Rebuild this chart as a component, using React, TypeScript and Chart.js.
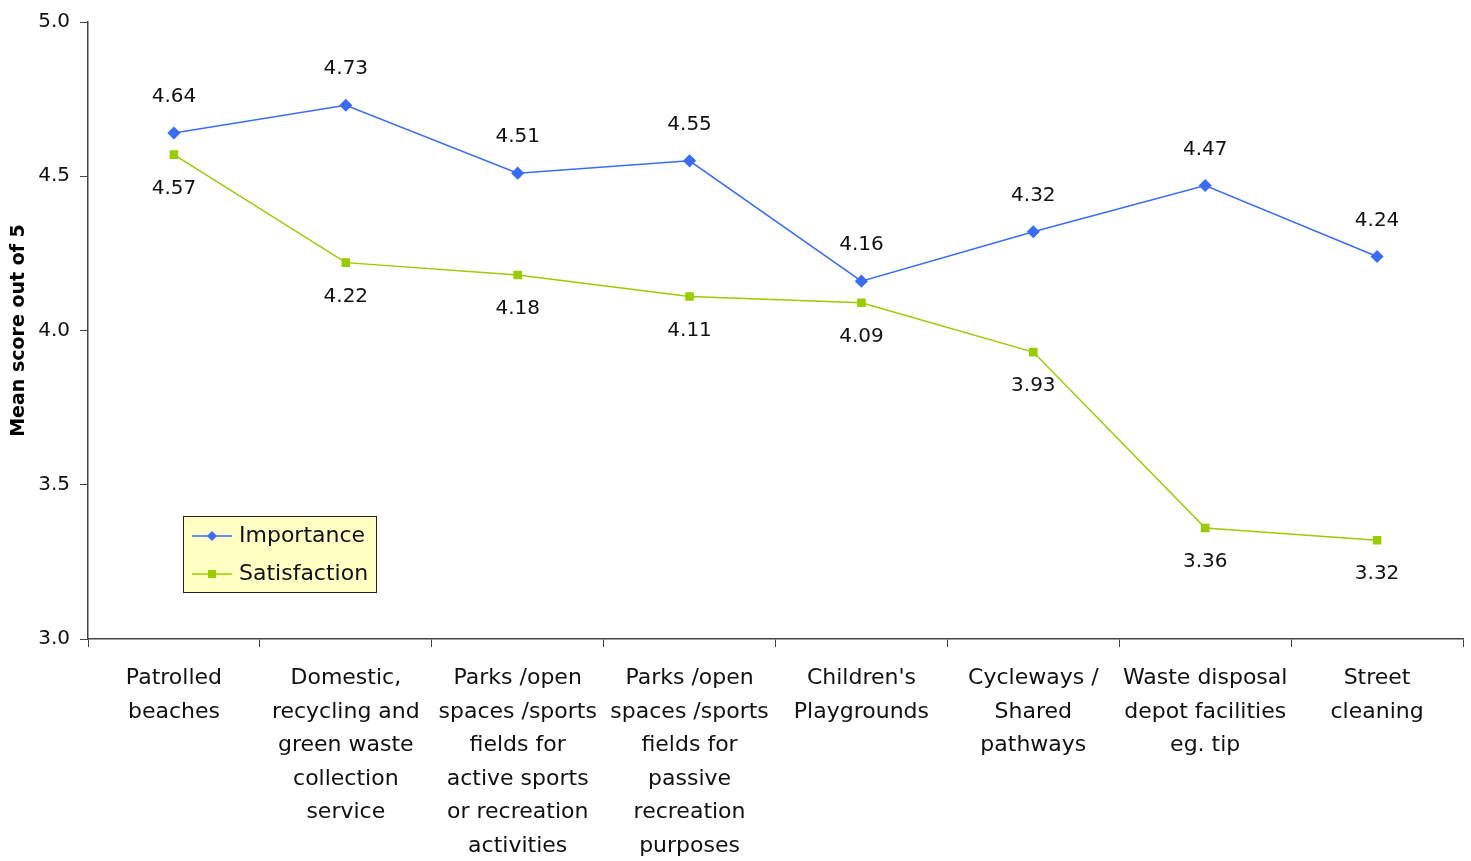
import React, { useEffect, useRef } from "react";
import { Chart, registerables } from "chart.js";

Chart.register(...registerables);

const categories: string[][] = [
  ["Patrolled", "beaches"],
  ["Domestic,", "recycling and", "green waste", "collection", "service"],
  ["Parks /open", "spaces /sports", "fields for", "active sports", "or recreation", "activities"],
  ["Parks /open", "spaces /sports", "fields for", "passive", "recreation", "purposes"],
  ["Children's", "Playgrounds"],
  ["Cycleways /", "Shared", "pathways"],
  ["Waste disposal", "depot facilities", "eg. tip"],
  ["Street", "cleaning"],
];
const importance = [4.64, 4.73, 4.51, 4.55, 4.16, 4.32, 4.47, 4.24];
const satisfaction = [4.57, 4.22, 4.18, 4.11, 4.09, 3.93, 3.36, 3.32];
const seriesNames = ["Importance", "Satisfaction"];
const yTicks = [3.0, 3.5, 4.0, 4.5, 5.0];

const FONT = "'DejaVu Sans', sans-serif";
const BLUE = "#3a6cf4";
const GREEN = "#99cc00";

const labelPlugin = {
  id: "valueLabels",
  afterDatasetsDraw(chart: any) {
    const ctx = chart.ctx;
    ctx.save();
    ctx.font = `20px ${FONT}`;
    ctx.fillStyle = "#111";
    ctx.textAlign = "center";
    ctx.textBaseline = "middle";
    chart.data.datasets.forEach((ds: any, di: number) => {
      const meta = chart.getDatasetMeta(di);
      meta.data.forEach((pt: any, i: number) => {
        const v = ds.data[i] as number;
        const dy = di === 0 ? -36 : 34;
        ctx.fillText(v.toFixed(2), pt.x, pt.y + dy);
      });
    });
    ctx.restore();
  },
};

const legendPlugin = {
  id: "boxLegend",
  afterDraw(chart: any) {
    const ctx = chart.ctx;
    const x0 = 183, y0 = 516, w = 193, h = 76;
    ctx.save();
    ctx.fillStyle = "#ffffc4";
    ctx.fillRect(x0, y0, w, h);
    ctx.strokeStyle = "#222";
    ctx.lineWidth = 1;
    ctx.strokeRect(x0 + 0.5, y0 + 0.5, w, h);
    const rows = [
      { name: seriesNames[0], color: BLUE, y: 536, diamond: true },
      { name: seriesNames[1], color: GREEN, y: 574, diamond: false },
    ];
    rows.forEach((r) => {
      ctx.strokeStyle = r.color;
      ctx.lineWidth = 1.5;
      ctx.beginPath();
      ctx.moveTo(192, r.y);
      ctx.lineTo(232, r.y);
      ctx.stroke();
      ctx.fillStyle = r.color;
      if (r.diamond) {
        ctx.beginPath();
        ctx.moveTo(212, r.y - 5);
        ctx.lineTo(217, r.y);
        ctx.lineTo(212, r.y + 5);
        ctx.lineTo(207, r.y);
        ctx.closePath();
        ctx.fill();
      } else {
        ctx.fillRect(208, r.y - 4, 8, 8);
      }
      ctx.fillStyle = "#111";
      ctx.font = `22px ${FONT}`;
      ctx.textAlign = "left";
      ctx.textBaseline = "middle";
      ctx.fillText(r.name, 239, r.y);
    });
    ctx.restore();
  },
};

export default function App() {
  const ref = useRef<HTMLCanvasElement>(null);
  useEffect(() => {
    if (!ref.current) return;
    const chart = new Chart(ref.current, {
      type: "line",
      data: {
        labels: categories as any,
        datasets: [
          {
            label: seriesNames[0],
            data: importance,
            borderColor: BLUE,
            backgroundColor: BLUE,
            borderWidth: 1.5,
            pointStyle: "rectRot",
            pointRadius: 5.5,
            pointHoverRadius: 5.5,
            tension: 0,
          },
          {
            label: seriesNames[1],
            data: satisfaction,
            borderColor: GREEN,
            backgroundColor: GREEN,
            borderWidth: 1.5,
            pointStyle: "rect",
            pointRadius: 5,
            pointHoverRadius: 5,
            tension: 0,
          },
        ],
      },
      options: {
        animation: false,
        responsive: true,
        maintainAspectRatio: false,
        layout: { padding: { top: 19, right: 8, left: 0, bottom: 0 } },
        plugins: {
          legend: { display: false },
          tooltip: { enabled: false },
        },
        scales: {
          x: {
            type: "category",
            offset: true,
            grid: {
              offset: true,
              drawOnChartArea: false,
              drawTicks: true,
              tickLength: 8,
              color: "#444",
            },
            border: { color: "#444", width: 1.5 },
            ticks: {
              autoSkip: false,
              maxRotation: 0,
              minRotation: 0,
              padding: 15,
              color: "#111",
              font: { family: FONT, size: 22, lineHeight: 1.52 },
            },
            afterFit(scale: any) {
              scale.height = 222;
            },
          },
          y: {
            min: 3,
            max: 5,
            afterBuildTicks(scale: any) {
              scale.ticks = yTicks.map((v) => ({ value: v }));
            },
            grid: {
              drawOnChartArea: false,
              drawTicks: true,
              tickLength: 8,
              color: "#444",
            },
            border: { color: "#444", width: 1.5 },
            ticks: {
              padding: 10,
              color: "#111",
              font: { family: FONT, size: 20 },
              callback: (v: any) => Number(v).toFixed(1),
            },
            title: {
              display: true,
              text: "Mean score out of 5",
              color: "#000",
              font: { family: FONT, size: 19, weight: "bold" },
              padding: { top: 8, bottom: 6 },
            },
            afterFit(scale: any) {
              scale.width = 88;
            },
          },
        },
      },
      plugins: [labelPlugin, legendPlugin],
    });
    return () => chart.destroy();
  }, []);
  return (
    <div style={{ position: "fixed", left: 0, top: 0, width: 1471, height: 861 }}>
      <canvas ref={ref} />
    </div>
  );
}
